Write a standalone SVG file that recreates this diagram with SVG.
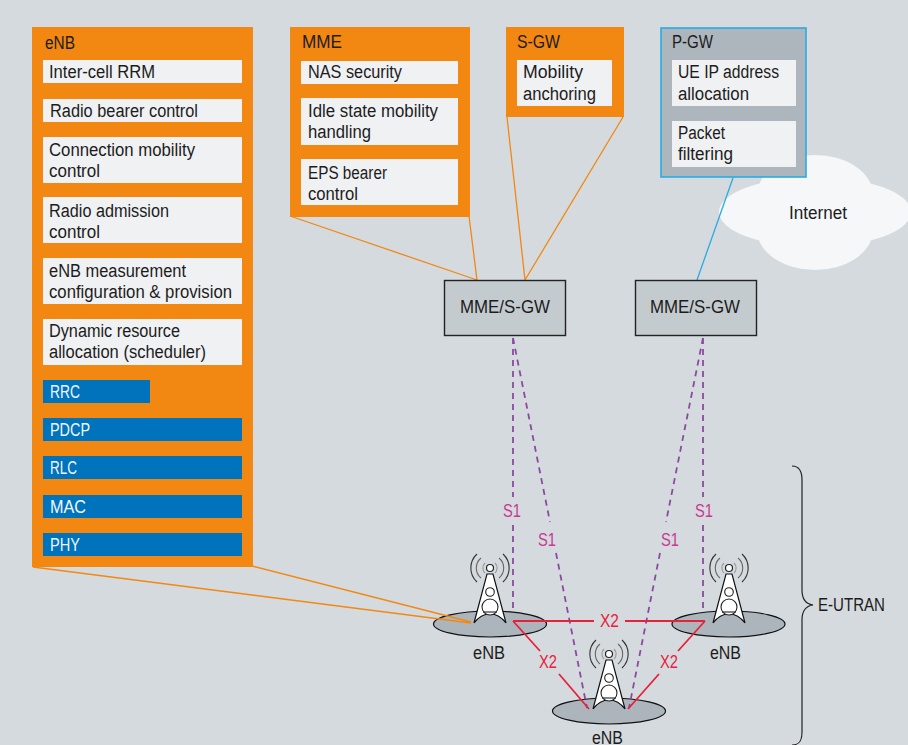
<svg xmlns="http://www.w3.org/2000/svg" width="908" height="745" viewBox="0 0 908 745">
<style>
text{font-family:"Liberation Sans",Arial,sans-serif;font-size:18px;fill:#1c1c1c}
.w{fill:#f0f1f3}.b{fill:#0073bd}.o{fill:#f28812}
.wt{fill:#f2f6fa}
.ol{stroke:#f28812;stroke-width:1.3;fill:none}
.pd{stroke:#8b4aa0;stroke-width:1.8;stroke-dasharray:6 5;fill:none}
.rd{stroke:#e8213a;stroke-width:1.8;fill:none}
.s1{fill:#c83a93}.x2{fill:#e8213a}
.gw{fill:#c4cbcf;stroke:#222;stroke-width:1.4}
.cell{fill:#adb5bc;stroke:#111;stroke-width:1.2}
</style>
<defs>
<g id="tower">
<g fill="none" stroke-width="1.1">
<path d="M-5 -5A7 7 0 0 0 -5 5M5 -5A7 7 0 0 1 5 5" stroke="#999"/>
<path d="M-9 -10A13 13 0 0 0 -9 10M9 -10A13 13 0 0 1 9 10" stroke="#666"/>
<path d="M-13 -14A19 19 0 0 0 -13 14M13 -14A19 19 0 0 1 13 14" stroke="#333"/>
</g>
<circle cx="0" cy="0" r="3.500" fill="#fff" stroke="#222" stroke-width="1.200"/>
<path d="M-3 6L3 6L16 55C10 47 5 46 0 46C-5 46 -10 47 -16 55Z" fill="#fff" stroke="#111" stroke-width="1.200"/>
<circle cx="0" cy="24" r="4.300" fill="#fff" stroke="#222" stroke-width="1.100"/>
<circle cx="0" cy="39" r="8" fill="#fff" stroke="#222" stroke-width="1.100"/>
<path d="M-7 44H7" stroke="#222" stroke-width="1.100"/>
</g>
</defs>
<rect width="908" height="745" fill="#d5dade"/>
<g id="internet">
<g fill="#f5f7f9">
<ellipse cx="815" cy="195" rx="58" ry="40"/>
<ellipse cx="815" cy="230" rx="58" ry="40"/>
<ellipse cx="815" cy="212" rx="96" ry="35"/>
</g>
<text x="789" y="219" textLength="58" lengthAdjust="spacingAndGlyphs">Internet</text>
</g>
<g id="enb-1"><ellipse class="cell" cx="490" cy="624" rx="56.500" ry="13"/><use href="#tower" x="490" y="568"/><text x="473" y="659" textLength="32" lengthAdjust="spacingAndGlyphs">eNB</text></g>
<g id="enb-2"><ellipse class="cell" cx="728.500" cy="624" rx="56.500" ry="13"/><use href="#tower" x="729" y="568"/><text x="710" y="659" textLength="31" lengthAdjust="spacingAndGlyphs">eNB</text></g>
<g id="enb-3"><ellipse class="cell" cx="609" cy="711" rx="56.500" ry="13"/><use href="#tower" x="609" y="654"/><text x="592" y="744" textLength="31" lengthAdjust="spacingAndGlyphs">eNB</text></g>
<g id="connectors">
<path class="ol" d="M33 567L471 623M252 566L471 622M290 216L477 280M469 216L477 280M507 117L525 280M623 117L525 280"/>
<path d="M733 178L697 280" stroke="#29abe2" stroke-width="1.300" fill="none"/>
<path class="pd" d="M513 338V497M513 525V612M703 338V497M703 525V612M513 338L550 522M556 553L587 708M703 338L666 522M660 553L629 708"/>
<path class="rd" d="M513 621H594M625 621H705M513 621L540 651M559 674L589 709M705 621L678 651M659 674L628 709"/>
<path d="M792 466C800 466 802 472 802 480V590C802 600 806 604 813 605C806 606 802 610 802 620V732C802 740 800 745 792 745" fill="none" stroke="#222" stroke-width="1.200"/>
</g>
<g id="enb-detail">
<rect class="o" x="32" y="27" width="221" height="540"/>
<text x="45" y="49" textLength="30" lengthAdjust="spacingAndGlyphs">eNB</text>
<rect class="w" x="43" y="60" width="199" height="23"/><text x="49" y="78" textLength="106" lengthAdjust="spacingAndGlyphs">Inter-cell RRM</text>
<rect class="w" x="43" y="99" width="199" height="23"/><text x="50" y="117" textLength="148" lengthAdjust="spacingAndGlyphs">Radio bearer control</text>
<rect class="w" x="43" y="137" width="199" height="46"/><text x="49" y="156" textLength="146" lengthAdjust="spacingAndGlyphs">Connection mobility</text><text x="49" y="177" textLength="51" lengthAdjust="spacingAndGlyphs">control</text>
<rect class="w" x="43" y="197" width="199" height="46"/><text x="49" y="217" textLength="120" lengthAdjust="spacingAndGlyphs">Radio admission</text><text x="49" y="238" textLength="51" lengthAdjust="spacingAndGlyphs">control</text>
<rect class="w" x="43" y="258" width="199" height="46"/><text x="49" y="277" textLength="137" lengthAdjust="spacingAndGlyphs">eNB measurement</text><text x="49" y="298" textLength="183" lengthAdjust="spacingAndGlyphs">configuration &amp; provision</text>
<rect class="w" x="43" y="319" width="199" height="46"/><text x="49" y="337" textLength="131" lengthAdjust="spacingAndGlyphs">Dynamic resource</text><text x="49" y="358" textLength="157" lengthAdjust="spacingAndGlyphs">allocation (scheduler)</text>
<rect class="b" x="43" y="380" width="107" height="23"/><text class="wt" x="50" y="398" textLength="30" lengthAdjust="spacingAndGlyphs">RRC</text>
<rect class="b" x="43" y="418" width="199" height="23"/><text class="wt" x="50" y="436" textLength="40" lengthAdjust="spacingAndGlyphs">PDCP</text>
<rect class="b" x="43" y="456" width="199" height="23"/><text class="wt" x="50" y="474" textLength="27" lengthAdjust="spacingAndGlyphs">RLC</text>
<rect class="b" x="43" y="495" width="199" height="23"/><text class="wt" x="50" y="513" textLength="36" lengthAdjust="spacingAndGlyphs">MAC</text>
<rect class="b" x="43" y="533" width="199" height="23"/><text class="wt" x="50" y="551" textLength="30" lengthAdjust="spacingAndGlyphs">PHY</text>
</g>
<g id="mme-detail">
<rect class="o" x="290" y="27" width="180" height="190"/>
<text x="302" y="48" textLength="40" lengthAdjust="spacingAndGlyphs">MME</text>
<rect class="w" x="301" y="61" width="157" height="23"/><text x="308" y="78" textLength="94" lengthAdjust="spacingAndGlyphs">NAS security</text>
<rect class="w" x="301" y="98" width="157" height="47"/><text x="308" y="117" textLength="130" lengthAdjust="spacingAndGlyphs">Idle state mobility</text><text x="308" y="138" textLength="63" lengthAdjust="spacingAndGlyphs">handling</text>
<rect class="w" x="301" y="159" width="157" height="46"/><text x="308" y="179" textLength="79" lengthAdjust="spacingAndGlyphs">EPS bearer</text><text x="308" y="200" textLength="50" lengthAdjust="spacingAndGlyphs">control</text>
</g>
<g id="sgw-detail">
<rect class="o" x="506" y="27" width="118" height="90"/>
<text x="517" y="48" textLength="43" lengthAdjust="spacingAndGlyphs">S-GW</text>
<rect class="w" x="517" y="60" width="95" height="46"/><text x="523" y="78" textLength="60" lengthAdjust="spacingAndGlyphs">Mobility</text><text x="523" y="100" textLength="73" lengthAdjust="spacingAndGlyphs">anchoring</text>
</g>
<g id="pgw-detail">
<rect x="661" y="28" width="145" height="149" fill="#adb5bd" stroke="#29abe2" stroke-width="1.600"/>
<text x="672" y="48" textLength="41" lengthAdjust="spacingAndGlyphs">P-GW</text>
<rect class="w" x="672" y="60" width="124" height="46"/><text x="678" y="78" textLength="101" lengthAdjust="spacingAndGlyphs">UE IP address</text><text x="678" y="100" textLength="71" lengthAdjust="spacingAndGlyphs">allocation</text>
<rect class="w" x="672" y="121" width="124" height="46"/><text x="678" y="139" textLength="47" lengthAdjust="spacingAndGlyphs">Packet</text><text x="678" y="160" textLength="55" lengthAdjust="spacingAndGlyphs">filtering</text>
</g>
<g id="mme-sgw-1"><rect class="gw" x="444.500" y="280.500" width="121" height="55"/><text x="460" y="313" textLength="90" lengthAdjust="spacingAndGlyphs">MME/S-GW</text></g>
<g id="mme-sgw-2"><rect class="gw" x="635.500" y="280.500" width="121" height="55"/><text x="650" y="313" textLength="90" lengthAdjust="spacingAndGlyphs">MME/S-GW</text></g>
<g id="labels">
<text class="s1" x="503" y="517" textLength="18" lengthAdjust="spacingAndGlyphs">S1</text>
<text class="s1" x="538" y="546" textLength="18" lengthAdjust="spacingAndGlyphs">S1</text>
<text class="s1" x="661" y="546" textLength="18" lengthAdjust="spacingAndGlyphs">S1</text>
<text class="s1" x="695" y="517" textLength="18" lengthAdjust="spacingAndGlyphs">S1</text>
<text class="x2" x="600" y="627" textLength="19" lengthAdjust="spacingAndGlyphs">X2</text>
<text class="x2" x="539" y="668" textLength="18" lengthAdjust="spacingAndGlyphs">X2</text>
<text class="x2" x="660" y="668" textLength="18" lengthAdjust="spacingAndGlyphs">X2</text>
<text x="818" y="611" textLength="67" lengthAdjust="spacingAndGlyphs">E-UTRAN</text>
</g>
</svg>
